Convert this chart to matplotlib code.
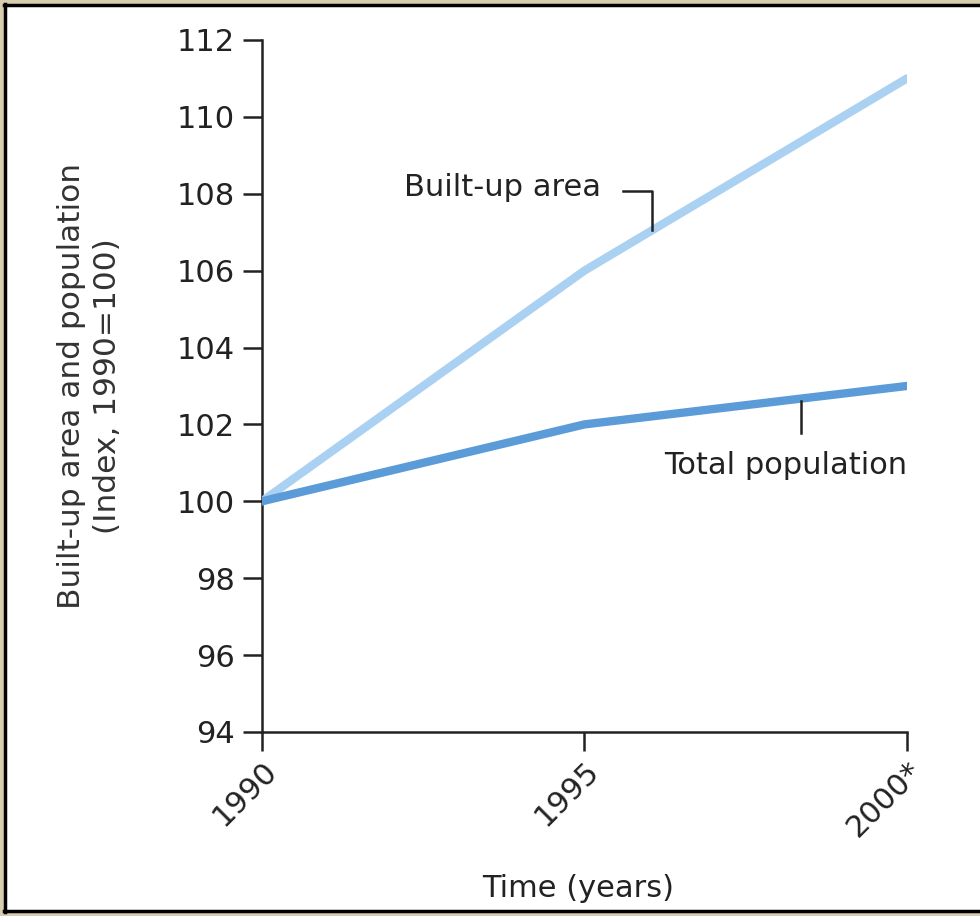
import matplotlib
matplotlib.use("Agg")
import matplotlib.pyplot as plt
from matplotlib.patches import Rectangle

# data
years = [1990, 1995, 2000]
year_labels = ["1990", "1995", "2000*"]
built_up = [100, 106, 111]
population = [100, 102, 103]
y_ticks = list(range(94, 113, 2))

plt.rcParams['font.family'] = ['DejaVu Sans']

fig = plt.figure(figsize=(9.8, 9.16), dpi=100)
fig.patch.set_facecolor("white")

# beige textured frame (left, top, bottom) + black border
beige = "#d9cdb0"
fig.add_artist(Rectangle((0, 0), 0.004, 1, transform=fig.transFigure, color=beige, lw=0))
fig.add_artist(Rectangle((0, 0.996), 1, 0.004, transform=fig.transFigure, color=beige, lw=0))
fig.add_artist(Rectangle((0, 0), 1, 0.004, transform=fig.transFigure, color=beige, lw=0))
fig.add_artist(plt.Line2D([0.0055, 0.0055], [0.004, 0.996], transform=fig.transFigure,
                          color="black", lw=2.5))
fig.add_artist(plt.Line2D([0.004, 1.0], [0.9945, 0.9945], transform=fig.transFigure,
                          color="black", lw=2.5))
fig.add_artist(plt.Line2D([0.004, 1.0], [0.0055, 0.0055], transform=fig.transFigure,
                          color="black", lw=2.5))

ax = fig.add_axes([0.2673, 0.2009, 0.6582, 0.7555])

ax.plot(years, built_up, color="#aad0f2", lw=6, solid_capstyle="round", zorder=3)
ax.plot(years, population, color="#5b9bd8", lw=6, solid_capstyle="round", zorder=4)

ax.set_xlim(1990, 2000)
ax.set_ylim(94, 112)
ax.set_yticks(y_ticks)
ax.set_xticks(years)
ax.set_xticklabels(year_labels, rotation=45, ha="right", va="top", rotation_mode="anchor")

for s in ["top", "right"]:
    ax.spines[s].set_visible(False)
for s in ["left", "bottom"]:
    ax.spines[s].set_linewidth(1.8)
    ax.spines[s].set_color("#222222")
ax.tick_params(direction="out", length=13.5, width=1.8, color="#222222",
               labelsize=22, labelcolor="#222222")
ax.tick_params(axis="x", pad=4)
ax.tick_params(axis="y", pad=6)
ax.set_facecolor("none")

ax.set_ylabel("Built-up area and population\n(Index, 1990=100)", fontsize=22.5,
              color="#333333", linespacing=1.3)
ax.yaxis.set_label_coords(-0.217, 0.5)
ax.set_xlabel("Time (years)", fontsize=22, color="#222222")
ax.xaxis.set_label_coords(0.49, -0.205)

# callouts
ax.plot([1995.6, 1996.05, 1996.05], [108.07, 108.07, 107.05], color="#222222", lw=1.8, zorder=5)
ax.text(1995.25, 108.15, "Built-up area", fontsize=22, color="#222222",
        ha="right", va="center")
ax.plot([1998.36, 1998.36], [102.6, 101.78], color="#222222", lw=1.8, zorder=5)
ax.text(2000, 100.92, "Total population", fontsize=22, color="#222222",
        ha="right", va="center")

fig.savefig("out.png", dpi=100)
